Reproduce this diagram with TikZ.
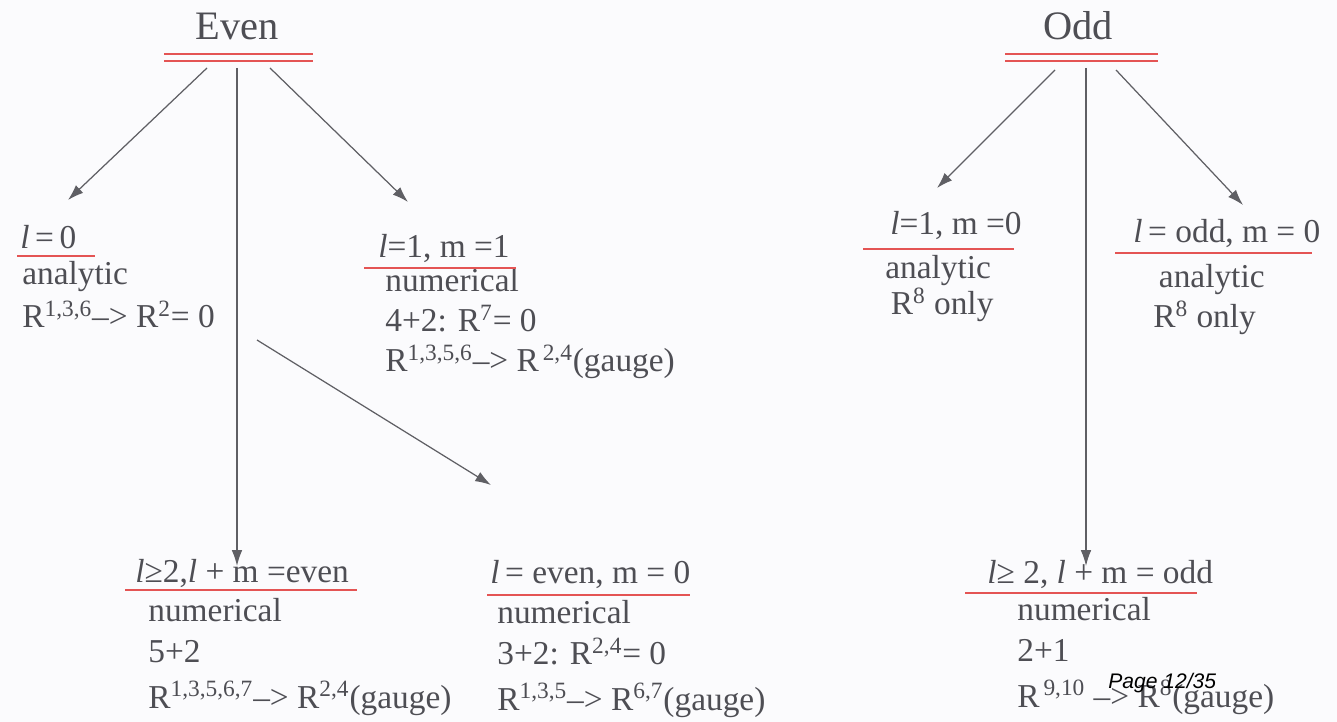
\documentclass[tikz,border=0pt]{standalone}
\usepackage{fontspec}
\setmainfont{Liberation Serif}
\newfontfamily\pagesans{Liberation Sans}
\usetikzlibrary{arrows.meta}
\usetikzlibrary{positioning}
\usetikzlibrary{calc}
\definecolor{inkgray}{RGB}{78,78,84}
\definecolor{linegray}{RGB}{95,95,100}
\definecolor{ulred}{RGB}{228,84,84}
\definecolor{paper}{RGB}{251,251,253}
\tikzset{
title/.style={
	anchor=base,
	inner sep=0pt,
	text=inkgray,
	font=\fontsize{23}{23}\selectfont
},
case/.style={
	anchor=base west,
	inner sep=0pt,
	text=inkgray,
	font=\fontsize{19}{23}\selectfont
},
detail/.style={
	anchor=base west,
	inner sep=0pt,
	align=left,
	text=inkgray,
	font=\fontsize{19}{23}\selectfont
},
underline/.style={
	draw=ulred,
	line width=1.2pt
},
arrow/.style={
	draw=linegray,
	line width=0.7pt,
	-{Latex[length=9pt,width=6pt]}
}
}

\begin{document}
\begin{tikzpicture}[x=0.02cm, y=-0.02cm]

\fill[paper] (0,0) rectangle (1337,722);
\useasboundingbox (0,0) rectangle (1337,722);

% parity headings
\node (even) [title] at (237,40) {Even};
\node (odd)  [title] at (1078,40) {Odd};

\draw [underline] ($(even.base)+(-73,14)$) -- ($(even.base)+(76,14)$);
\draw [underline] ($(even.base)+(-73,21)$) -- ($(even.base)+(76,21)$);
\draw [underline] ($(odd.base)+(-73,14)$) -- ($(odd.base)+(80,14)$);
\draw [underline] ($(odd.base)+(-73,21)$) -- ($(odd.base)+(80,21)$);

% even cases (detail nodes sit on their last line)
\node (lzero)     [case] at (20,249) {\textit{l}\,=\,0};
\node (loneone)   [case] at (378,258) {\textit{l}=1, m =1};
\node (lcombeven) [case] at (135,582) {\textit{l}≥2,\textit{l} + m =even};
\node (leven)     [case] at (490,583) {\textit{l}\,= even, m = 0};

\node (lzeroB)     [detail] at ($(lzero.base west)+(2,79)$) {analytic\\[2pt] R\textsuperscript{1,3,6}--> R\textsuperscript{2}= 0};
\node (loneoneB)   [detail] at ($(loneone.base west)+(7,114)$) {numerical\\ 4+2: R\textsuperscript{7}= 0\\ R\textsuperscript{1,3,5,6}--> R\textsuperscript{\,2,4}(gauge)};
\node (lcombevenB) [detail] at ($(lcombeven.base west)+(13,126)$) {numerical\\ 5+2\\[3pt] R\textsuperscript{1,3,5,6,7}--> R\textsuperscript{2,4}(gauge)};
\node (levenB)     [detail] at ($(leven.base west)+(7,127)$) {numerical\\ 3+2: R\textsuperscript{2,4}= 0\\[3pt] R\textsuperscript{1,3,5}--> R\textsuperscript{6,7}(gauge)};

% odd cases
\node (lonezero)  [case] at (890,235) {\textit{l}=1, m =0};
\node (lodd)      [case] at (1133,243) {\textit{l}\,= odd, m = 0};
\node (lcombodd)  [case] at (987,583) {\textit{l}≥ 2, \textit{l} + m = odd};

\node (lonezeroB) [detail] at ($(lonezero.base west)+(-5,80)$) {analytic\\[-2pt] \,R\textsuperscript{8} only};
\node (loddB)     [detail] at ($(lodd.base west)+(20,85)$) {\,analytic\\ R\textsuperscript{8} only};
\node (lcomboddB) [detail] at ($(lcombodd.base west)+(30,124)$) {numerical\\ 2+1\\[3pt] R\textsuperscript{\,9,10} --> R\textsuperscript{8}(gauge)};

\draw [underline] ($(lzero.base west)+(-3,7)$) -- ($(lzero.base west)+(75,7)$);
\draw [underline] ($(loneone.base west)+(-14,10)$) -- ($(loneone.base west)+(138,10)$);
\draw [underline] ($(lcombeven.base west)+(-10,8)$) -- ($(lcombeven.base west)+(222,8)$);
\draw [underline] ($(leven.base west)+(-3,12)$) -- ($(leven.base west)+(200,12)$);
\draw [underline] ($(lonezero.base west)+(-27,14)$) -- ($(lonezero.base west)+(124,14)$);
\draw [underline] ($(lodd.base west)+(-18,10)$) -- ($(lodd.base west)+(179,10)$);
\draw [underline] ($(lcombodd.base west)+(-22,10)$) -- ($(lcombodd.base west)+(210,10)$);

% branches
\coordinate (split) at (257,340);
\draw [arrow] ($(even.base)+(-30,28)$) -- ($(lzero.base west)+(48,-49)$);
\draw [arrow] ($(even.base)+(0,28)$) -- ($(lcombeven.base west)+(102,-16)$);
\draw [arrow] ($(even.base)+(33,28)$) -- ($(loneone.base west)+(30,-56)$);
\draw [arrow] (split) -- ($(leven.base west)+(1,-98)$);

\draw [arrow] ($(odd.base)+(-23,30)$) -- ($(lonezero.base west)+(47,-47)$);
\draw [arrow] ($(odd.base)+(8,28)$) -- ($(lcombodd.base west)+(99,-17)$);
\draw [arrow] ($(odd.base)+(38,30)$) -- ($(lodd.base west)+(110,-38)$);

\node (pagenum) [anchor=base west, inner sep=0pt, font=\pagesans\itshape\fontsize{12}{12}\selectfont] at (1108,688) {Page 12/35};

\end{tikzpicture}
\end{document}
